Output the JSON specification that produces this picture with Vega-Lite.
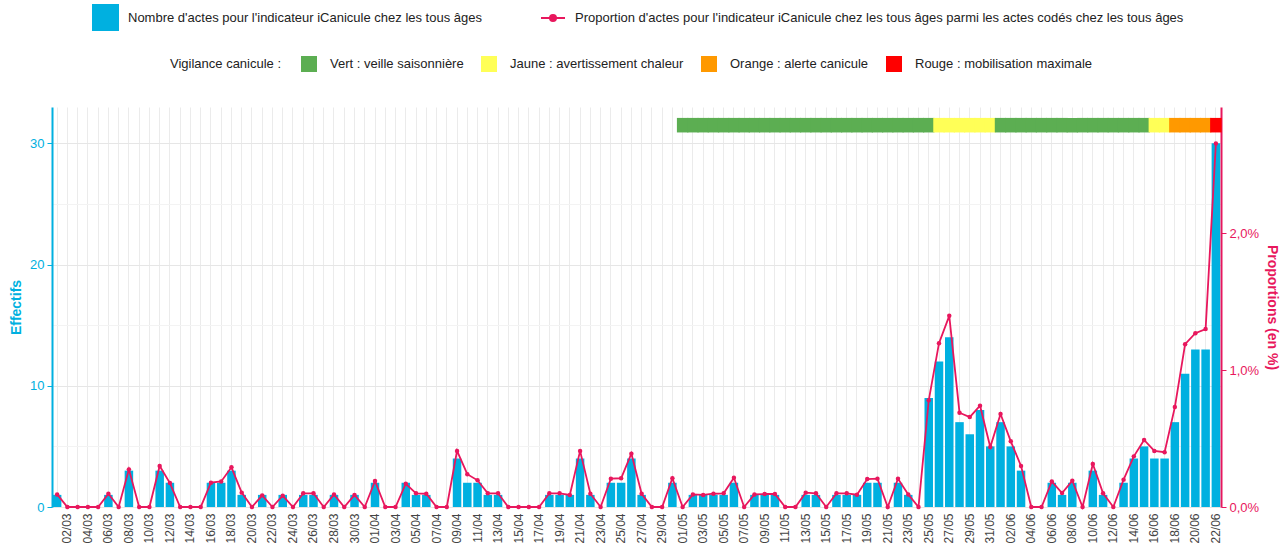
{
  "$schema": "https://vega.github.io/schema/vega-lite/v6.json",
  "width": 1169,
  "height": 400,
  "autosize": {"type": "none"},
  "padding": {"left": 52, "top": 107, "right": 63, "bottom": 45},
  "config": {"font": "Liberation Sans", "view": {"stroke": null}},
  "data": {"values": [
    {"d": "01/03", "n": 1, "p": 0.092}, {"d": "02/03", "n": 0, "p": 0}, {"d": "03/03", "n": 0, "p": 0}, {"d": "04/03", "n": 0, "p": 0},
    {"d": "05/03", "n": 0, "p": 0}, {"d": "06/03", "n": 1, "p": 0.097}, {"d": "07/03", "n": 0, "p": 0}, {"d": "08/03", "n": 3, "p": 0.275},
    {"d": "09/03", "n": 0, "p": 0}, {"d": "10/03", "n": 0, "p": 0}, {"d": "11/03", "n": 3, "p": 0.3}, {"d": "12/03", "n": 2, "p": 0.175},
    {"d": "13/03", "n": 0, "p": 0}, {"d": "14/03", "n": 0, "p": 0}, {"d": "15/03", "n": 0, "p": 0}, {"d": "16/03", "n": 2, "p": 0.178},
    {"d": "17/03", "n": 2, "p": 0.187}, {"d": "18/03", "n": 3, "p": 0.29}, {"d": "19/03", "n": 1, "p": 0.105}, {"d": "20/03", "n": 0, "p": 0},
    {"d": "21/03", "n": 1, "p": 0.085}, {"d": "22/03", "n": 0, "p": 0}, {"d": "23/03", "n": 1, "p": 0.083}, {"d": "24/03", "n": 0, "p": 0},
    {"d": "25/03", "n": 1, "p": 0.1}, {"d": "26/03", "n": 1, "p": 0.1}, {"d": "27/03", "n": 0, "p": 0}, {"d": "28/03", "n": 1, "p": 0.092},
    {"d": "29/03", "n": 0, "p": 0}, {"d": "30/03", "n": 1, "p": 0.088}, {"d": "31/03", "n": 0, "p": 0},
    {"d": "01/04", "n": 2, "p": 0.19}, {"d": "02/04", "n": 0, "p": 0}, {"d": "03/04", "n": 0, "p": 0}, {"d": "04/04", "n": 2, "p": 0.17},
    {"d": "05/04", "n": 1, "p": 0.1}, {"d": "06/04", "n": 1, "p": 0.097}, {"d": "07/04", "n": 0, "p": 0}, {"d": "08/04", "n": 0, "p": 0},
    {"d": "09/04", "n": 4, "p": 0.41}, {"d": "10/04", "n": 2, "p": 0.24}, {"d": "11/04", "n": 2, "p": 0.195}, {"d": "12/04", "n": 1, "p": 0.1},
    {"d": "13/04", "n": 1, "p": 0.1}, {"d": "14/04", "n": 0, "p": 0}, {"d": "15/04", "n": 0, "p": 0}, {"d": "16/04", "n": 0, "p": 0},
    {"d": "17/04", "n": 0, "p": 0}, {"d": "18/04", "n": 1, "p": 0.1}, {"d": "19/04", "n": 1, "p": 0.1}, {"d": "20/04", "n": 1, "p": 0.088},
    {"d": "21/04", "n": 4, "p": 0.41}, {"d": "22/04", "n": 1, "p": 0.097}, {"d": "23/04", "n": 0, "p": 0}, {"d": "24/04", "n": 2, "p": 0.207},
    {"d": "25/04", "n": 2, "p": 0.21}, {"d": "26/04", "n": 4, "p": 0.39}, {"d": "27/04", "n": 1, "p": 0.097}, {"d": "28/04", "n": 0, "p": 0},
    {"d": "29/04", "n": 0, "p": 0}, {"d": "30/04", "n": 2, "p": 0.21},
    {"d": "01/05", "n": 0, "p": 0, "v": "Vert : veille saisonnière"}, {"d": "02/05", "n": 1, "p": 0.092, "v": "Vert : veille saisonnière"},
    {"d": "03/05", "n": 1, "p": 0.088, "v": "Vert : veille saisonnière"}, {"d": "04/05", "n": 1, "p": 0.097, "v": "Vert : veille saisonnière"},
    {"d": "05/05", "n": 1, "p": 0.1, "v": "Vert : veille saisonnière"}, {"d": "06/05", "n": 2, "p": 0.214, "v": "Vert : veille saisonnière"},
    {"d": "07/05", "n": 0, "p": 0, "v": "Vert : veille saisonnière"}, {"d": "08/05", "n": 1, "p": 0.092, "v": "Vert : veille saisonnière"},
    {"d": "09/05", "n": 1, "p": 0.095, "v": "Vert : veille saisonnière"}, {"d": "10/05", "n": 1, "p": 0.095, "v": "Vert : veille saisonnière"},
    {"d": "11/05", "n": 0, "p": 0, "v": "Vert : veille saisonnière"}, {"d": "12/05", "n": 0, "p": 0, "v": "Vert : veille saisonnière"},
    {"d": "13/05", "n": 1, "p": 0.105, "v": "Vert : veille saisonnière"}, {"d": "14/05", "n": 1, "p": 0.1, "v": "Vert : veille saisonnière"},
    {"d": "15/05", "n": 0, "p": 0, "v": "Vert : veille saisonnière"}, {"d": "16/05", "n": 1, "p": 0.1, "v": "Vert : veille saisonnière"},
    {"d": "17/05", "n": 1, "p": 0.1, "v": "Vert : veille saisonnière"}, {"d": "18/05", "n": 1, "p": 0.09, "v": "Vert : veille saisonnière"},
    {"d": "19/05", "n": 2, "p": 0.204, "v": "Vert : veille saisonnière"}, {"d": "20/05", "n": 2, "p": 0.207, "v": "Vert : veille saisonnière"},
    {"d": "21/05", "n": 0, "p": 0, "v": "Vert : veille saisonnière"}, {"d": "22/05", "n": 2, "p": 0.207, "v": "Vert : veille saisonnière"},
    {"d": "23/05", "n": 1, "p": 0.092, "v": "Vert : veille saisonnière"}, {"d": "24/05", "n": 0, "p": 0, "v": "Vert : veille saisonnière"},
    {"d": "25/05", "n": 9, "p": 0.78, "v": "Vert : veille saisonnière"}, {"d": "26/05", "n": 12, "p": 1.197, "v": "Jaune : avertissement chaleur"},
    {"d": "27/05", "n": 14, "p": 1.397, "v": "Jaune : avertissement chaleur"}, {"d": "28/05", "n": 7, "p": 0.689, "v": "Jaune : avertissement chaleur"},
    {"d": "29/05", "n": 6, "p": 0.657, "v": "Jaune : avertissement chaleur"}, {"d": "30/05", "n": 8, "p": 0.74, "v": "Jaune : avertissement chaleur"},
    {"d": "31/05", "n": 5, "p": 0.438, "v": "Jaune : avertissement chaleur"},
    {"d": "01/06", "n": 7, "p": 0.68, "v": "Vert : veille saisonnière"}, {"d": "02/06", "n": 5, "p": 0.48, "v": "Vert : veille saisonnière"},
    {"d": "03/06", "n": 3, "p": 0.3, "v": "Vert : veille saisonnière"}, {"d": "04/06", "n": 0, "p": 0, "v": "Vert : veille saisonnière"},
    {"d": "05/06", "n": 0, "p": 0, "v": "Vert : veille saisonnière"}, {"d": "06/06", "n": 2, "p": 0.187, "v": "Vert : veille saisonnière"},
    {"d": "07/06", "n": 1, "p": 0.102, "v": "Vert : veille saisonnière"}, {"d": "08/06", "n": 2, "p": 0.192, "v": "Vert : veille saisonnière"},
    {"d": "09/06", "n": 0, "p": 0, "v": "Vert : veille saisonnière"}, {"d": "10/06", "n": 3, "p": 0.314, "v": "Vert : veille saisonnière"},
    {"d": "11/06", "n": 1, "p": 0.1, "v": "Vert : veille saisonnière"}, {"d": "12/06", "n": 0, "p": 0, "v": "Vert : veille saisonnière"},
    {"d": "13/06", "n": 2, "p": 0.2, "v": "Vert : veille saisonnière"}, {"d": "14/06", "n": 4, "p": 0.37, "v": "Vert : veille saisonnière"},
    {"d": "15/06", "n": 5, "p": 0.49, "v": "Vert : veille saisonnière"}, {"d": "16/06", "n": 4, "p": 0.41, "v": "Jaune : avertissement chaleur"},
    {"d": "17/06", "n": 4, "p": 0.4, "v": "Jaune : avertissement chaleur"}, {"d": "18/06", "n": 7, "p": 0.73, "v": "Orange : alerte canicule"},
    {"d": "19/06", "n": 11, "p": 1.19, "v": "Orange : alerte canicule"}, {"d": "20/06", "n": 13, "p": 1.27, "v": "Orange : alerte canicule"},
    {"d": "21/06", "n": 13, "p": 1.3, "v": "Orange : alerte canicule"}, {"d": "22/06", "n": 30, "p": 2.657, "v": "Rouge : mobilisation maximale"}
  ]},
  "encoding": {
    "x": {
      "field": "d", "type": "ordinal", "sort": null,
      "scale": {"paddingInner": 0, "paddingOuter": 0},
      "axis": {
        "title": null, "labelAngle": -90, "labelFontSize": 12, "labelColor": "#444444",
        "labelExpr": "round(datum.index * 113) % 2 == 1 ? datum.label : ''",
        "labelPadding": 6, "ticks": false, "domain": false,
        "grid": true, "gridColor": "#ebebeb", "gridWidth": 1
      }
    }
  },
  "layer": [
    {
      "layer": [
        {
          "mark": {"type": "bar", "width": {"band": 0.83}},
          "encoding": {
            "y": {
              "field": "n", "type": "quantitative",
              "scale": {"domain": [0, 33], "nice": false},
              "axis": {
                "title": "Effectifs", "titleColor": "#00b0e0", "titleFontWeight": "bold", "titleFontSize": 14, "titlePadding": 6,
                "values": [0, 5, 10, 15, 20, 25, 30],
                "labelExpr": "datum.value % 10 == 0 ? datum.label : ''",
                "labelColor": "#00b0e0", "labelFontSize": 13, "labelPadding": 3,
                "domainColor": "#00b0e0", "domainWidth": 2,
                "tickSize": 5, "tickWidth": 1,
                "tickColor": {"condition": {"test": "datum.value % 10 == 0", "value": "#00b0e0"}, "value": "transparent"},
                "grid": true, "gridWidth": 1,
                "gridColor": {"condition": {"test": "datum.value % 10 == 0", "value": "#e6e6e6"}, "value": "#f3f3f3"}
              }
            },
            "fill": {
              "datum": "Nombre d'actes pour l'indicateur iCanicule chez les tous âges",
              "scale": {"range": ["#00b0e0"]},
              "legend": {
                "orient": "none", "legendX": 40, "legendY": -103, "title": null,
                "symbolType": "square", "symbolSize": 729, "symbolStrokeWidth": 0, "symbolOpacity": 1,
                "labelFontSize": 13, "labelColor": "#222222", "labelOffset": 9, "labelLimit": 1000, "padding": 0
              }
            }
          }
        },
        {
          "transform": [{"filter": "isValid(datum.v)"}],
          "mark": {"type": "bar", "width": {"band": 1.12}},
          "encoding": {
            "y": {"datum": 30.9, "type": "quantitative"},
            "y2": {"datum": 32.1},
            "color": {
              "field": "v", "type": "nominal",
              "scale": {
                "domain": ["Vert : veille saisonnière", "Jaune : avertissement chaleur", "Orange : alerte canicule", "Rouge : mobilisation maximale"],
                "range": ["#5cae52", "#ffff57", "#ff9900", "#ff0000"]
              },
              "legend": {
                "orient": "none", "legendX": 118, "legendY": -51, "direction": "horizontal", "columns": 4,
                "title": "Vigilance canicule :", "titleOrient": "left", "titleFontWeight": "normal", "titleFontSize": 13,
                "titleColor": "#222222", "titlePadding": 19, "titleBaseline": "middle", "titleAnchor": "middle",
                "symbolType": "square", "symbolSize": 256, "symbolStrokeWidth": 0, "symbolOpacity": 1,
                "labelOffset": 13, "columnPadding": 17, "labelFontSize": 13, "labelColor": "#222222", "labelLimit": 1000, "padding": 0
              }
            }
          }
        }
      ]
    },
    {
      "layer": [
        {
          "mark": {"type": "line", "strokeWidth": 1.8},
          "encoding": {
            "y": {
              "field": "p", "type": "quantitative",
              "scale": {"domain": [0, 2.923], "nice": false},
              "axis": {
                "orient": "right", "title": "Proportions (en %)", "titleColor": "#e8175d", "titleFontWeight": "bold", "titleFontSize": 14,
                "titlePadding": 6,
                "values": [0, 1, 2],
                "labelExpr": "replace(format(datum.value, '.1f'), '.', ',') + '%'",
                "labelColor": "#e8175d", "labelFontSize": 13, "labelPadding": 3,
                "domainColor": "#e8175d", "domainWidth": 2,
                "tickColor": "#e8175d", "tickSize": 5, "tickWidth": 1,
                "grid": false
              }
            },
            "stroke": {
              "datum": "Proportion d'actes pour l'indicateur iCanicule chez les tous âges parmi les actes codés chez les tous âges",
              "scale": {"range": ["#e8175d"]},
              "legend": {
                "orient": "none", "legendX": 488, "legendY": -102, "title": null,
                "symbolType": "M-1,0H1M-0.25,0A0.25,0.25,0,1,0,0.25,0A0.25,0.25,0,1,0,-0.25,0",
                "symbolSize": 576, "symbolStrokeWidth": 2, "symbolFillColor": "#e8175d",
                "labelFontSize": 13, "labelColor": "#222222", "labelOffset": 9, "labelLimit": 1000, "padding": 0
              }
            }
          }
        },
        {
          "mark": {"type": "circle", "size": 20, "color": "#e8175d", "opacity": 1},
          "encoding": {"y": {"field": "p", "type": "quantitative"}}
        }
      ]
    }
  ],
  "resolve": {"scale": {"y": "independent"}}
}
